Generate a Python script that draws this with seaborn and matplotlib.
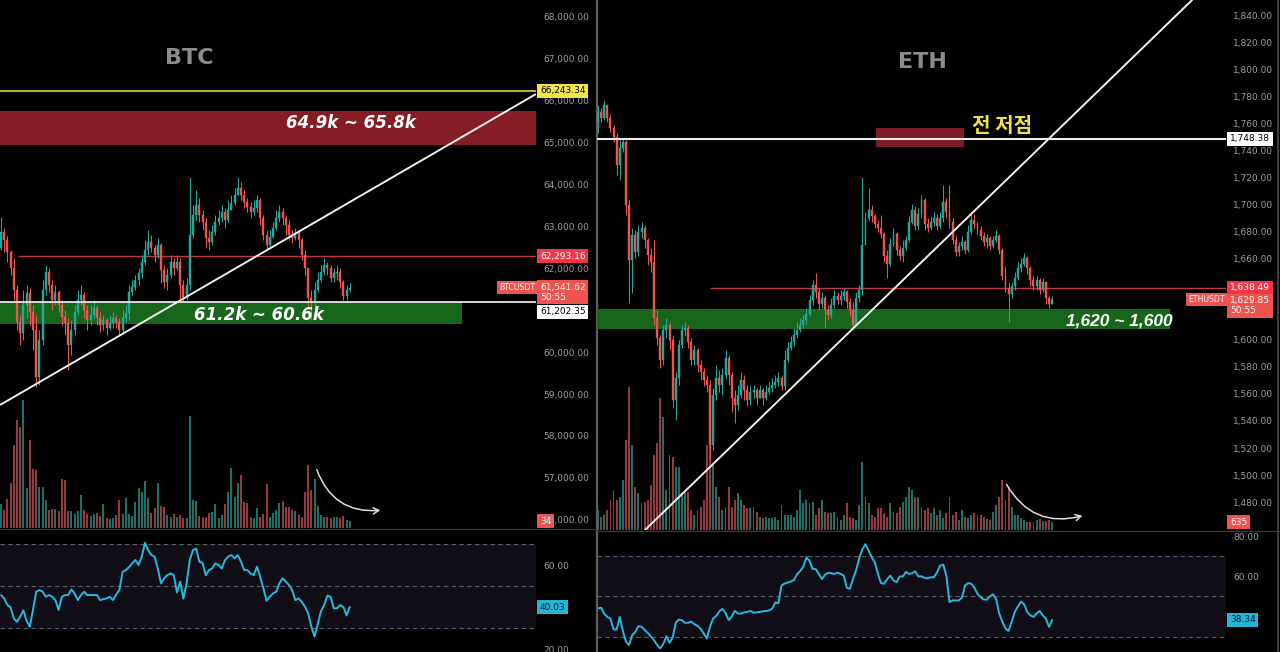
import numpy as np
import pandas as pd
import matplotlib
matplotlib.use("Agg")
import matplotlib.pyplot as plt
import matplotlib.transforms as mtransforms
from matplotlib.patches import FancyArrowPatch
from matplotlib.lines import Line2D
import seaborn as sns

# ---------------- BTC data ----------------
btc_open0 = 62485
btc_close = [62867, 62676, 62390, 62008, 61482, 60719, 60456, 61125, 61411, 60958,
             60528, 59406, 60289, 61482, 61912, 61602, 61244, 61435, 61125, 60838,
             60695, 60170, 60528, 60958, 61244, 61363, 61005, 60767, 60886, 61053,
             60814, 60647, 60767, 60576, 60695, 60814, 60719, 60528, 60814, 60934,
             61435, 61555, 61721, 61889, 62151, 62438, 62629, 62485, 62318, 62557,
             61960, 61674, 61841, 62151, 62008, 62151, 61602, 61292, 61602, 62796,
             63273, 63512, 63273, 63106, 62724, 62629, 62867, 63106, 63202, 63345,
             63154, 63392, 63560, 63750, 63917, 63750, 63583, 63464, 63345, 63440,
             63631, 63202, 62796, 62557, 62748, 62963, 63202, 63345, 63202, 63034,
             62796, 62724, 62844, 62676, 62318, 62008, 61292, 61196, 61482, 61721,
             61912, 62080, 62008, 61769, 61889, 61912, 61674, 61340, 61482, 61542]
btc_high = [63225, 62963, 62772, 62438, 62247, 61602, 60886, 61482, 61602, 61531,
            61125, 60886, 60528, 61721, 62080, 62008, 61721, 61602, 61482, 61244,
            61005, 60814, 60767, 61125, 61482, 61602, 61435, 61125, 61125, 61244,
            61125, 60958, 60886, 60814, 60886, 60958, 60886, 60814, 61005, 61125,
            61602, 61721, 61841, 62008, 62318, 62676, 62915, 62796, 62557, 62724,
            62605, 62080, 62008, 62318, 62247, 62318, 62247, 61721, 61769, 64180,
            63512, 63870, 63679, 63392, 63202, 62915, 63034, 63273, 63392, 63512,
            63440, 63631, 63750, 63917, 64180, 64061, 63870, 63679, 63583, 63631,
            63750, 63679, 63273, 62915, 62915, 63106, 63392, 63512, 63440, 63273,
            63154, 62915, 62963, 62915, 62724, 62438, 62008, 61482, 61674, 61912,
            62080, 62247, 62151, 62080, 62008, 62080, 62008, 61721, 61602, 61650]
btc_low = [62438, 62390, 62151, 61841, 61244, 60528, 60170, 60289, 60814, 60647,
           60050, 59167, 59215, 60170, 61363, 61435, 61005, 61125, 60958, 60647,
           60408, 59573, 59931, 60408, 60886, 61125, 60814, 60528, 60647, 60814,
           60647, 60480, 60528, 60408, 60528, 60576, 60576, 60408, 60480, 60719,
           60767, 61363, 61482, 61602, 61769, 62080, 62318, 62390, 62151, 62247,
           61650, 61531, 61482, 61769, 61841, 61960, 61244, 61196, 61244, 61482,
           62724, 63154, 63106, 62915, 62485, 62438, 62557, 62796, 63034, 63106,
           62963, 63106, 63392, 63512, 63750, 63631, 63440, 63345, 63202, 63273,
           63345, 63034, 62676, 62438, 62485, 62724, 62915, 63106, 63034, 62796,
           62676, 62605, 62676, 62485, 62199, 61841, 61077, 60767, 60767, 61435,
           61674, 61841, 61841, 61674, 61674, 61721, 61531, 61244, 61244, 61435]
btc_volume = [120, 90, 143, 223, 415, 540, 507, 640, 198, 440,
              295, 290, 207, 207, 140, 90, 93, 93, 85, 243,
              240, 85, 85, 68, 85, 165, 90, 68, 60, 68,
              77, 60, 118, 48, 43, 48, 65, 140, 68, 152,
              68, 60, 132, 198, 182, 235, 148, 73, 98, 223,
              110, 107, 65, 57, 68, 57, 65, 48, 48, 560,
              140, 135, 60, 57, 57, 73, 78, 118, 48, 65,
              118, 182, 298, 157, 227, 265, 132, 123, 57, 48,
              98, 53, 68, 218, 57, 73, 90, 123, 135, 107,
              103, 90, 87, 65, 57, 182, 315, 190, 245, 110,
              65, 57, 53, 48, 53, 57, 48, 60, 40, 34]
btc_rsi = [45.7, 44.1, 41.0, 39.8, 34.6, 33.0, 35.5, 38.5, 33.5, 30.6,
           38.6, 47.3, 48.1, 47.3, 44.9, 45.7, 44.9, 43.3, 38.6, 44.9,
           45.7, 45.7, 48.4, 46.5, 43.3, 45.7, 47.3, 45.7, 45.7, 45.7,
           45.7, 43.3, 43.8, 44.1, 44.9, 43.3, 46.0, 48.1, 56.8, 57.6,
           59.0, 60.8, 62.4, 60.0, 64.0, 70.6, 67.1, 64.8, 64.0, 58.4,
           51.3, 53.7, 55.2, 56.0, 55.2, 47.0, 52.1, 44.0, 51.3, 62.4,
           67.1, 67.9, 61.6, 61.0, 55.2, 57.6, 58.4, 60.8, 60.0, 58.4,
           62.4, 64.0, 64.8, 63.2, 64.8, 61.6, 57.6, 57.6, 56.0, 55.2,
           59.2, 54.4, 48.9, 43.0, 44.9, 46.5, 47.3, 51.3, 53.7, 52.1,
           50.5, 48.1, 43.3, 44.1, 42.5, 40.2, 37.0, 30.6, 26.0, 32.0,
           38.0, 41.0, 45.5, 44.9, 39.4, 39.4, 41.0, 40.0, 36.0, 40.03]
# tick labels that are not hidden behind the price tags
btc_ticks = [56000, 57000, 58000, 59000, 60000, 62000, 63000, 64000, 65000,
             66000, 67000, 68000]
btc_rsi_ticks = [20, 60]
btc_levels = {"yellow": 66243.34, "red": 62293.16, "white": 61202.35, "last": 61541.62}
btc_red_zone = (64940, 65760)
btc_green_zone = (60670, 61190)
btc_trend = [(-0.31, 58738), (167.2, 66161)]
btc_last_vol = 34

# ---------------- ETH data ----------------
eth_open0 = 1761.0
eth_close = [1768.3, 1763.9, 1773.5, 1763.9, 1756.5, 1749.9, 1729.2, 1741.7, 1746.2, 1699.6,
             1659.0, 1677.4, 1664.9, 1679.6, 1682.6, 1673.7, 1662.7, 1657.5, 1616.1, 1601.3,
             1585.1, 1607.2, 1610.9, 1599.8, 1555.5, 1571.8, 1596.1, 1607.2, 1608.7, 1598.4,
             1585.1, 1592.5, 1581.4, 1576.2, 1570.3, 1566.6, 1522.2, 1559.2, 1571.8, 1566.6,
             1574.0, 1586.5, 1574.0, 1557.0, 1551.8, 1559.2, 1570.3, 1562.9, 1555.5, 1561.4,
             1562.9, 1557.0, 1562.9, 1557.0, 1561.4, 1564.4, 1566.6, 1568.8, 1571.8, 1565.9,
             1585.1, 1593.9, 1598.4, 1603.5, 1607.2,
             1610.9, 1614.6, 1619.1, 1629.4, 1640.5, 1635.3, 1626.4, 1630.9, 1622.0, 1618.3,
             1625.7, 1632.4, 1629.4, 1632.4, 1635.3, 1627.9, 1622.0, 1610.9, 1630.9, 1636.8,
             1670.0, 1690.0, 1695.9, 1691.5, 1685.6, 1682.6, 1678.2, 1661.9, 1656.0, 1670.8,
             1678.2, 1666.4, 1661.9, 1667.8, 1673.7, 1687.0, 1695.9, 1684.1, 1692.9, 1703.3,
             1685.6, 1682.6, 1687.0, 1690.0, 1684.1, 1690.0, 1701.8, 1694.4, 1687.0, 1673.7,
             1664.9, 1669.3, 1672.3, 1666.4, 1679.6, 1688.5, 1685.6, 1681.1, 1676.7, 1672.3,
             1675.2, 1669.3, 1673.7, 1676.7, 1666.4, 1647.1, 1638.3, 1633.8, 1639.7, 1645.7,
             1653.1, 1656.0, 1660.5, 1653.1, 1644.2, 1639.7, 1644.2, 1636.8, 1642.7, 1630.9,
             1626.4, 1629.85]
eth_high = [1773.5, 1771.3, 1777.2, 1773.5, 1766.1, 1758.7, 1752.8, 1747.6, 1749.1, 1747.6,
            1703.3, 1682.6, 1681.1, 1684.8, 1687.0, 1684.8, 1675.2, 1667.8, 1673.7, 1622.0,
            1603.5, 1610.9, 1616.1, 1613.1, 1603.5, 1576.2, 1599.8, 1610.9, 1613.1, 1610.9,
            1601.3, 1596.1, 1593.9, 1585.1, 1579.1, 1574.0, 1570.3, 1564.4, 1581.4, 1577.7,
            1579.1, 1592.5, 1588.8, 1576.2, 1562.9, 1566.6, 1576.2, 1574.0, 1566.6, 1566.6,
            1566.6, 1564.4, 1566.6, 1564.4, 1566.6, 1568.8, 1571.8, 1574.0, 1576.2, 1574.0,
            1592.5, 1598.4, 1602.8, 1608.7, 1613.1,
            1616.1, 1618.3, 1623.5, 1633.1, 1644.2, 1649.4, 1638.3, 1635.3, 1633.1, 1625.7,
            1630.9, 1636.8, 1635.3, 1636.8, 1638.3, 1636.8, 1630.9, 1627.9, 1635.3, 1640.5,
            1720.3, 1694.4, 1712.2, 1699.6, 1692.9, 1688.5, 1692.2, 1679.6, 1666.4, 1675.2,
            1682.6, 1679.6, 1669.3, 1673.7, 1676.7, 1691.5, 1700.3, 1698.9, 1697.4, 1707.0,
            1704.8, 1690.0, 1691.5, 1694.4, 1692.9, 1694.4, 1714.4, 1704.8, 1714.4, 1690.0,
            1676.7, 1672.3, 1676.7, 1673.7, 1684.8, 1694.4, 1692.9, 1687.0, 1684.1, 1679.6,
            1678.2, 1676.7, 1676.7, 1681.1, 1678.2, 1667.8, 1654.5, 1642.7, 1642.7, 1650.1,
            1657.5, 1660.5, 1664.1, 1661.9, 1654.5, 1647.1, 1647.1, 1645.7, 1645.7, 1642.7,
            1632.4, 1632.4]
eth_low = [1752.8, 1761.0, 1762.4, 1761.0, 1753.5, 1746.2, 1721.8, 1718.1, 1738.8, 1692.2,
           1627.2, 1634.6, 1660.5, 1661.9, 1675.2, 1667.8, 1655.3, 1650.1, 1610.9, 1596.1,
           1579.1, 1581.4, 1601.3, 1592.5, 1549.6, 1540.7, 1566.6, 1593.9, 1602.8, 1593.9,
           1581.4, 1581.4, 1576.2, 1570.3, 1565.9, 1561.4, 1511.2, 1518.6, 1555.5, 1561.4,
           1559.2, 1571.8, 1566.6, 1546.6, 1538.5, 1548.1, 1557.0, 1555.5, 1551.1, 1551.8,
           1557.0, 1551.8, 1557.0, 1551.8, 1555.5, 1559.2, 1561.4, 1564.4, 1565.9, 1562.9,
           1562.9, 1583.6, 1592.5, 1595.4, 1601.3,
           1605.8, 1608.7, 1610.9, 1617.6, 1625.7, 1630.9, 1622.0, 1623.5, 1608.7, 1614.6,
           1616.1, 1623.5, 1626.4, 1625.7, 1629.4, 1623.5, 1617.6, 1607.2, 1610.9, 1627.9,
           1633.1, 1670.0, 1688.5, 1687.0, 1682.6, 1679.6, 1675.2, 1657.5, 1645.7, 1654.5,
           1669.3, 1662.7, 1659.0, 1657.5, 1666.4, 1672.3, 1685.6, 1681.1, 1681.1, 1690.0,
           1681.1, 1679.6, 1681.1, 1684.1, 1681.1, 1682.6, 1687.0, 1690.0, 1682.6, 1670.8,
           1661.9, 1661.9, 1666.4, 1663.4, 1664.9, 1678.2, 1682.6, 1678.2, 1673.7, 1669.3,
           1667.8, 1666.4, 1667.8, 1672.3, 1663.4, 1644.2, 1635.3, 1613.1, 1630.9, 1636.8,
           1644.2, 1650.1, 1654.5, 1648.6, 1639.7, 1636.8, 1636.8, 1633.8, 1635.3, 1626.4,
           1623.5, 1626.4]
eth_volume = [1600, 1067, 1200, 1600, 2400, 3200, 2400, 2667, 4000, 7200,
              11440, 6800, 3467, 2933, 2133, 2267, 2400, 3600, 6000, 6933,
              10560, 9040, 3200, 6000, 5867, 5067, 5067, 2933, 2933, 3067,
              1600, 1200, 1600, 1867, 2400, 6800, 7200, 5333, 3467, 2667,
              1600, 1867, 3467, 1867, 2400, 2933, 2400, 2000, 1733, 1733,
              1867, 1467, 1067, 933, 1067, 933, 933, 1067, 800, 2000,
              1200, 1200, 1200, 1067, 1600, 3200, 2133, 2400, 2133, 2267,
              1200, 1733, 2400, 1467, 1333, 1333, 1467, 933, 800, 1200,
              2133, 1067, 933, 800, 2000, 5467, 2667, 2133, 1200, 1067,
              1733, 1733, 1333, 1067, 2133, 1467, 1333, 1867, 2267, 2667,
              3467, 3200, 2667, 2667, 1867, 1600, 1733, 1333, 1733, 1200,
              1600, 933, 1333, 2667, 1200, 1467, 800, 1600, 1067, 933,
              1200, 1333, 1200, 1200, 1067, 853, 800, 1467, 2000, 2667,
              4000, 2400, 3467, 1867, 1200, 1200, 933, 800, 667, 667,
              667, 800, 853, 747, 747, 800, 635]
eth_rsi = [44.1, 44.4, 41.5, 39.8, 39.0, 33.6, 33.6, 39.8, 32.9, 27.5,
           25.9, 30.8, 32.4, 35.2, 34.9, 33.3, 31.9, 30.1, 28.3, 25.9,
           24.2, 26.4, 30.3, 27.0, 29.6, 36.9, 38.5, 38.2, 36.9, 36.9,
           37.5, 36.2, 35.4, 33.9, 31.6, 29.2, 34.9, 39.0, 40.3, 42.6,
           43.8, 41.8, 38.2, 40.1, 42.8, 41.5, 41.5, 42.1, 42.3, 42.8,
           41.9, 42.1, 42.3, 42.6, 42.8, 43.0, 43.9, 47.0, 46.7, 55.4,
           56.4, 56.9, 57.4, 58.2, 61.0, 62.6, 64.8, 69.4, 67.7, 63.6,
           63.6, 61.2, 58.7, 60.8, 61.8, 61.5, 61.2, 61.8, 61.2, 60.3,
           54.3, 53.8, 58.7, 63.1, 69.1, 73.5, 76.0, 72.7, 69.4, 66.9,
           61.2, 56.6, 56.3, 58.7, 60.3, 57.9, 57.1, 59.9, 59.9, 62.2,
           61.2, 61.5, 62.5, 59.9, 60.0, 59.2, 59.0, 59.5, 59.5, 62.0,
           65.3, 65.8, 60.3, 47.2, 48.0, 48.0, 48.0, 49.4, 55.4, 56.6,
           56.3, 54.3, 51.3, 49.7, 48.5, 48.4, 50.0, 51.0, 48.7, 41.5,
           37.4, 34.1, 32.9, 37.4, 42.3, 45.1, 47.4, 46.1, 42.3, 40.6,
           39.8, 41.5, 42.8, 40.6, 39.0, 34.9, 38.34]
eth_ticks = [1480, 1500, 1520, 1540, 1560, 1580, 1600, 1660, 1680, 1700,
             1720, 1740, 1760, 1780, 1800, 1820, 1840]
eth_rsi_ticks = [60, 80]
eth_levels = {"white": 1748.38, "red": 1638.49, "last": 1629.85}
eth_prev_low_box = (89.4, 117.7, 1742.4, 1756.5)
eth_green_zone = (1608.0, 1622.8)
eth_trend = [(15.1, 1459.4), (191.0, 1851.1)]
eth_last_vol = 635

# ---------------- style ----------------
UP, DOWN = "#26a69a", "#ef5350"
VUP, VDOWN = "#1d6f68", "#96393b"
RSI_C = "#25b9dc"
TICK_C = "#9a9da6"

sns.set_theme(style="dark", rc={
    "figure.facecolor": "black", "axes.facecolor": "black", "savefig.facecolor": "black",
    "axes.grid": False, "axes.edgecolor": "black", "text.color": "white",
    "ytick.color": TICK_C, "xtick.color": TICK_C})
plt.rcParams["font.family"] = ["DejaVu Sans", "Noto Sans CJK KR"]

W, H = 1280, 652
fig = plt.figure(figsize=(W / 100, H / 100), dpi=100)


def add_ax(x0, y0, x1, y1):
    return fig.add_axes([x0 / W, 1 - y1 / H, (x1 - x0) / W, (y1 - y0) / H])


def clean(ax):
    for s in ax.spines.values():
        s.set_visible(False)
    ax.set_xticks([])
    ax.set_xlabel("")
    ax.set_ylabel("")


def right_ticks(ax, ticks, fmt):
    ax.yaxis.tick_right()
    ax.set_yticks(ticks)
    ax.set_yticklabels([fmt.format(t) for t in ticks])
    ax.tick_params(axis="y", length=0, pad=5, labelsize=6.5, labelcolor=TICK_C)


def candles(ax, open0, close, high, low, width):
    c = np.asarray(close, float)
    o = np.concatenate([[open0], c[:-1]])
    h = np.maximum.reduce([np.asarray(high, float), o, c])
    l = np.minimum.reduce([np.asarray(low, float), o, c])
    x = np.arange(len(c))
    up = c >= o
    col = np.where(up, UP, DOWN)
    ax.vlines(x, l, h, colors=col, linewidth=0.75, zorder=3)
    ax.bar(x, np.abs(c - o), bottom=np.minimum(o, c), width=width, color=col,
           edgecolor=col, linewidth=0.3, zorder=4)
    return up


def tag(ax, axw_px, y, text, bg, fg, va="center", fs=6.5, inside=False):
    tr = mtransforms.blended_transform_factory(ax.transAxes, ax.transData)
    if inside:
        x, ha = 1.0 - 1.0 / axw_px, "right"
    else:
        x, ha = 1.0 + 4.0 / axw_px, "left"
    ax.text(x, y, text, transform=tr, ha=ha, va=va, fontsize=fs, color=fg,
            linespacing=1.15, clip_on=False, zorder=30,
            bbox=dict(boxstyle="square,pad=0.28", fc=bg, ec="none"))


def panel(x0, x1, y_split, xlim, ylim, vlim, rsi_lim, open0, close, high, low, vol, rsi,
          ticks, tick_fmt, rsi_ticks, body_w):
    ax = add_ax(x0, 0, x1, y_split)
    vax = ax.twinx()
    rax = add_ax(x0, y_split + 2, x1, H)
    vax.set_zorder(1)
    ax.set_zorder(2)
    ax.patch.set_visible(False)
    up = candles(ax, open0, close, high, low, body_w)
    x = np.arange(len(close))
    vax.bar(x, vol, width=0.6, color=np.where(up, VUP, VDOWN), linewidth=0, zorder=1)
    ax.set_xlim(*xlim)
    ax.set_ylim(*ylim)
    vax.set_ylim(*vlim)
    vax.set_yticks([])
    clean(ax)
    clean(vax)
    right_ticks(ax, ticks, tick_fmt)
    # RSI pane
    rax.axhspan(30, 70, color="#100d17", zorder=0, lw=0)
    for lv in (70, 50, 30):
        rax.axhline(lv, color="#5b5e68", lw=0.8, ls=(0, (4, 3)), zorder=1)
    df = pd.DataFrame({"bar": x, "rsi": rsi})
    sns.lineplot(data=df, x="bar", y="rsi", ax=rax, color=RSI_C, linewidth=1.4, zorder=3)
    rax.set_xlim(*xlim)
    rax.set_ylim(*rsi_lim)
    clean(rax)
    right_ticks(rax, rsi_ticks, "{:.2f}")
    return ax, vax, rax


# ---------------- BTC panel ----------------
BTC_W = 536
ax_b, vax_b, rax_b = panel(0, BTC_W, 528, (-0.31, 167.2), (55802, 68405), (0, 2640),
                           (18.6, 76.7), btc_open0, btc_close, btc_high, btc_low,
                           btc_volume, btc_rsi, btc_ticks, "{:,.2f}", btc_rsi_ticks, 0.62)
ppx_b = 23.87
ax_b.axhspan(*btc_red_zone, color="#841d24", lw=0, zorder=1)
ax_b.axhline(btc_levels["yellow"], color="#efe34a", lw=1.1, zorder=2)
ax_b.hlines(btc_levels["red"], 5.3, 167.2, color="#c2393f", lw=1.0, zorder=2)
ax_b.axhline(btc_levels["white"], color="#e6e6e6", lw=1.3, zorder=5)
ax_b.fill_between([-0.31, 144.0], *btc_green_zone, color="#17661b", lw=0, zorder=1)
ax_b.plot([p[0] for p in btc_trend], [p[1] for p in btc_trend], color="#f0f0f0", lw=1.4,
          zorder=6, solid_capstyle="butt")
ax_b.text(109.4, 65465, "64.9k ~ 65.8k", ha="center", va="center", fontsize=12,
          fontstyle="italic", fontweight="bold", color="white", zorder=7)
ax_b.text(80.6, 60890, "61.2k ~ 60.6k", ha="center", va="center", fontsize=12,
          fontstyle="italic", fontweight="bold", color="white", zorder=7)
ax_b.text(0.354, 0.890, "BTC", transform=ax_b.transAxes, ha="center", va="center",
          fontsize=16, fontweight="bold", color="#8c8c8c")
ax_b.add_patch(FancyArrowPatch((98.4, 57258), (119.4, 56231), connectionstyle="arc3,rad=0.4",
                               arrowstyle="->,head_length=4,head_width=2.2", color="#dcdcdc",
                               lw=1.1, zorder=8))
tag(ax_b, BTC_W, btc_levels["yellow"], "66,243.34", "#f2e64b", "black")
tag(ax_b, BTC_W, btc_levels["red"], "62,293.16", "#f23645", "white")
tag(ax_b, BTC_W, btc_levels["last"] + 5 * ppx_b, "61,541.62\n50:55", "#ef5350", "white",
    va="top")
tag(ax_b, BTC_W, btc_levels["white"] - 10 * ppx_b, "61,202.35", "white", "black")
tag(ax_b, BTC_W, btc_levels["last"], "BTCUSDT", "#ef5350", "white", fs=5.6, inside=True)
tag(vax_b, BTC_W, btc_last_vol, "34", "#ef5350", "white")
tag(rax_b, BTC_W, btc_rsi[-1], "40.03", "#22b6d4", "#0c1a30")

# ---------------- ETH panel ----------------
ETH_W = 629
ax_e, vax_e, rax_e = panel(597, 597 + ETH_W, 530, (-0.32, 201.9), (1459.4, 1851.1),
                           (0, 42400), (22.4, 82.0), eth_open0, eth_close, eth_high,
                           eth_low, eth_volume, eth_rsi, eth_ticks, "{:,.2f}",
                           eth_rsi_ticks, 0.62)
ppx_e = 0.739
ax_e.axhline(eth_levels["white"], color="#eeeeee", lw=1.5, zorder=5)
bx0, bx1, by0, by1 = eth_prev_low_box
ax_e.fill_between([bx0, bx1], by0, by1, color="#7d1c24", lw=0, zorder=1)
ax_e.text(120.3, 1758.0, "전 저점", ha="left", va="center", fontsize=14.5, fontweight="bold",
          color="#f2e24a", family=["Noto Sans CJK KR", "DejaVu Sans"], zorder=7)
ax_e.hlines(eth_levels["red"], 36.0, 201.9, color="#c2393f", lw=1.0, zorder=2)
ax_e.fill_between([-0.32, 183.9], *eth_green_zone, color="#17661b", lw=0, zorder=1)
ax_e.text(184.6, 1614.2, "1,620 ~ 1,600", ha="right", va="center", fontsize=12.5,
          fontstyle="italic", fontweight="bold", color="white", zorder=7,
          family=["Liberation Sans", "DejaVu Sans"])
ax_e.plot([p[0] for p in eth_trend], [p[1] for p in eth_trend], color="#f0f0f0", lw=1.4,
          zorder=6)
ax_e.text(0.518, 0.883, "ETH", transform=ax_e.transAxes, ha="center", va="center",
          fontsize=16, fontweight="bold", color="#8c8c8c")
ax_e.add_patch(FancyArrowPatch((130.9, 1494.9), (156.6, 1470.5), connectionstyle="arc3,rad=0.4",
                               arrowstyle="->,head_length=4,head_width=2.2", color="#dcdcdc",
                               lw=1.1, zorder=8))
tag(ax_e, ETH_W, eth_levels["white"], "1,748.38", "white", "black")
tag(ax_e, ETH_W, eth_levels["red"], "1,638.49", "#f23645", "white")
tag(ax_e, ETH_W, eth_levels["last"] + 3 * ppx_e, "1,629.85\n50:55", "#ef5350", "white",
    va="top")
tag(ax_e, ETH_W, eth_levels["last"], "ETHUSDT", "#ef5350", "white", fs=5.6, inside=True)
tag(vax_e, ETH_W, eth_last_vol, "635", "#ef5350", "white")
tag(rax_e, ETH_W, eth_rsi[-1], "38.34", "#22b6d4", "#0c1a30")

# ---------------- separators ----------------
fig.add_artist(Line2D([596.5 / W, 596.5 / W], [0, 1], transform=fig.transFigure,
                      color="#5e5e5e", lw=1.6))
fig.add_artist(Line2D([0, 596 / W], [1 - 528.5 / H] * 2, transform=fig.transFigure,
                      color="#363a45", lw=0.8))
fig.add_artist(Line2D([597 / W, 1], [1 - 530.5 / H] * 2, transform=fig.transFigure,
                      color="#363a45", lw=0.8))
fig.add_artist(Line2D([1277.5 / W, 1277.5 / W], [0, 1], transform=fig.transFigure,
                      color="#4a4a4a", lw=1.2))

fig.savefig("out.png", dpi=100, facecolor="black")
